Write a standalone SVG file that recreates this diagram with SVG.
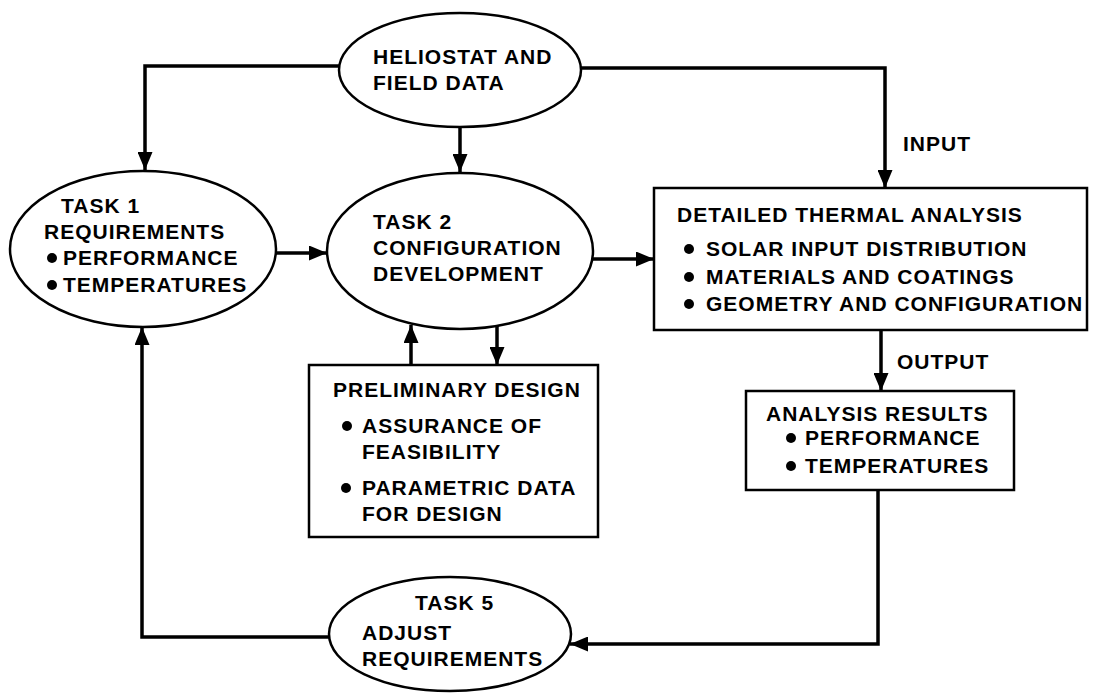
<svg xmlns="http://www.w3.org/2000/svg" width="1093" height="697" viewBox="0 0 1093 697">
<style>
.shape{fill:#fff;stroke:#000;stroke-width:2.5}
.conn{fill:none;stroke:#000;stroke-width:3.5}
text{font-family:"Liberation Sans",Arial,sans-serif;font-size:21px;font-weight:bold;letter-spacing:1px;fill:#000}
.dot{fill:#000}
</style>
<defs>
<marker id="arr" markerUnits="userSpaceOnUse" markerWidth="18" markerHeight="15" refX="18" refY="7.5" orient="auto">
<path d="M0,0 L18,7.5 L0,15 Z" fill="#000"/>
</marker>
</defs>
<rect width="1093" height="697" fill="#fff"/>
<g id="connectors">
<path class="conn" d="M340,66 H145 V170" marker-end="url(#arr)"/>
<path class="conn" d="M460,127 V172" marker-end="url(#arr)"/>
<path class="conn" d="M580,68 H885 V188" marker-end="url(#arr)"/>
<path class="conn" d="M276,253 H327" marker-end="url(#arr)"/>
<path class="conn" d="M592,259 H654" marker-end="url(#arr)"/>
<path class="conn" d="M411,365 V325" marker-end="url(#arr)"/>
<path class="conn" d="M497,326 V365" marker-end="url(#arr)"/>
<path class="conn" d="M881,330 V391" marker-end="url(#arr)"/>
<path class="conn" d="M878,490 V644 H570" marker-end="url(#arr)"/>
<path class="conn" d="M329,637 H142 V327" marker-end="url(#arr)"/>
</g>
<g id="heliostat">
<ellipse class="shape" cx="460" cy="70" rx="121" ry="57"/>
<text x="373" y="64">HELIOSTAT AND</text>
<text x="373" y="90">FIELD DATA</text>
</g>
<g id="task1">
<ellipse class="shape" cx="143" cy="249" rx="133" ry="78"/>
<text x="61" y="213">TASK 1</text>
<text x="44" y="239">REQUIREMENTS</text>
<circle class="dot" cx="52" cy="258" r="5"/>
<text x="63" y="265">PERFORMANCE</text>
<circle class="dot" cx="52" cy="285" r="5"/>
<text x="63" y="292">TEMPERATURES</text>
</g>
<g id="task2">
<ellipse class="shape" cx="460" cy="251" rx="133" ry="78"/>
<text x="373" y="229">TASK 2</text>
<text x="373" y="255">CONFIGURATION</text>
<text x="373" y="281">DEVELOPMENT</text>
</g>
<g id="detailed">
<rect class="shape" x="654" y="188" width="433" height="142"/>
<text x="677" y="222">DETAILED THERMAL ANALYSIS</text>
<circle class="dot" cx="689" cy="249" r="5"/>
<text x="706" y="256">SOLAR INPUT DISTRIBUTION</text>
<circle class="dot" cx="689" cy="277" r="5"/>
<text x="706" y="284">MATERIALS AND COATINGS</text>
<circle class="dot" cx="689" cy="304" r="5"/>
<text x="706" y="311">GEOMETRY AND CONFIGURATION</text>
</g>
<g id="prelim">
<rect class="shape" x="309" y="365" width="289" height="172"/>
<text x="333" y="397">PRELIMINARY DESIGN</text>
<circle class="dot" cx="347" cy="426" r="5"/>
<text x="362" y="433">ASSURANCE OF</text>
<text x="362" y="459">FEASIBILITY</text>
<circle class="dot" cx="346" cy="488" r="5"/>
<text x="362" y="495">PARAMETRIC DATA</text>
<text x="362" y="521">FOR DESIGN</text>
</g>
<g id="analysis">
<rect class="shape" x="746" y="391" width="268" height="99"/>
<text x="766" y="421">ANALYSIS RESULTS</text>
<circle class="dot" cx="791" cy="438" r="5"/>
<text x="805" y="445">PERFORMANCE</text>
<circle class="dot" cx="791" cy="466" r="5"/>
<text x="805" y="473">TEMPERATURES</text>
</g>
<g id="task5">
<ellipse class="shape" cx="450" cy="634" rx="121" ry="57"/>
<text x="415" y="610">TASK 5</text>
<text x="362" y="640">ADJUST</text>
<text x="362" y="666">REQUIREMENTS</text>
</g>
<text x="903" y="151">INPUT</text>
<text x="897" y="369">OUTPUT</text>
</svg>
